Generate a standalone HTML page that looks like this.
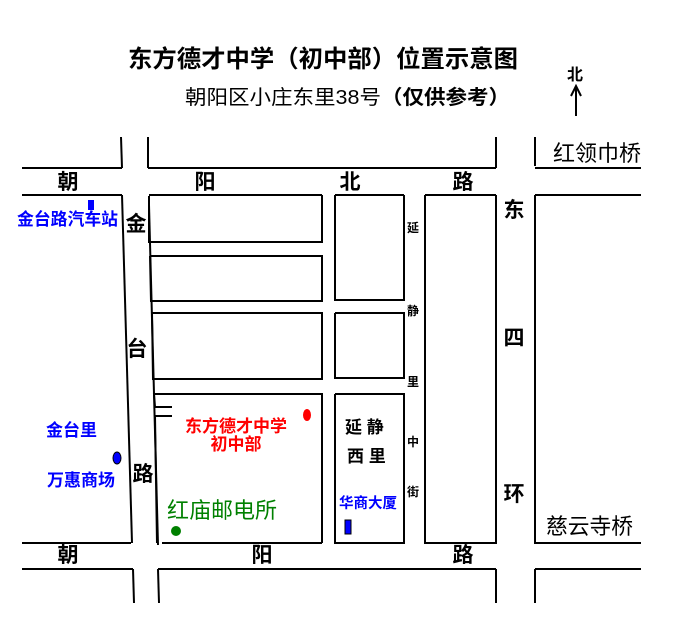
<!DOCTYPE html>
<html><head><meta charset="utf-8"><style>
body{margin:0;background:#fff;}
svg{display:block;}
text{font-family:"Liberation Sans","Noto Sans CJK SC","WenQuanYi Zen Hei",sans-serif;}
</style></head><body>
<svg width="685" height="625" viewBox="0 0 685 625" xmlns="http://www.w3.org/2000/svg">
<g stroke="#000" stroke-width="2" fill="none">
<line x1="22" y1="168" x2="122" y2="168"/>
<line x1="148" y1="168" x2="496" y2="168"/>
<line x1="535" y1="168" x2="641" y2="168"/>
<line x1="121" y1="137" x2="122" y2="168"/>
<line x1="148" y1="137" x2="148" y2="168"/>
<line x1="496" y1="137" x2="496" y2="168"/>
<line x1="535" y1="137" x2="535" y2="166"/>
<line x1="22" y1="195" x2="122" y2="195"/>
<line x1="149" y1="195" x2="322" y2="195"/>
<line x1="335" y1="195" x2="404" y2="195"/>
<line x1="425" y1="195" x2="496" y2="195"/>
<line x1="535" y1="195" x2="641" y2="195"/>
<line x1="122" y1="195" x2="132" y2="543"/>
<line x1="149" y1="205" x2="158" y2="545"/>
<polyline points="149,196 149,242 322,242 322,195"/>
<polyline points="150,256 322,256 322,301 151,301 150,256"/>
<polyline points="152,313 322,313 322,379 153,379 152,313"/>
<polyline points="155,407 154,394 322,394 322,543"/>
<line x1="155" y1="407" x2="172" y2="407"/>
<polyline points="172,416 155,416 157,543"/>
<polyline points="335,195 335,300 404,300 404,195"/>
<polyline points="335,313 404,313 404,378 335,378 335,313"/>
<polyline points="335,394 404,394 404,543 335,543 335,394"/>
<polyline points="425,195 425,543 496,543 496,195"/>
<polyline points="535,195 535,543 641,543"/>
<line x1="22" y1="543" x2="131" y2="543"/>
<line x1="162" y1="543" x2="322" y2="543"/>
<line x1="22" y1="569" x2="133" y2="569"/>
<line x1="158" y1="569" x2="496" y2="569"/>
<line x1="535" y1="569" x2="641" y2="569"/>
<line x1="133" y1="569" x2="134" y2="603"/>
<line x1="158" y1="569" x2="159" y2="603"/>
<line x1="496" y1="569" x2="496" y2="603"/>
<line x1="535" y1="569" x2="535" y2="603"/>
<line x1="576" y1="116" x2="576" y2="87"/>
<polyline points="571,96 576,86 581,96"/>
</g>
<text x="323" y="67" font-size="24" font-weight="bold" text-anchor="middle" textLength="390" lengthAdjust="spacingAndGlyphs">东方德才中学（初中部）位置示意图</text>
<text x="185" y="104" font-size="20" textLength="325" lengthAdjust="spacingAndGlyphs">朝阳区小庄东里38号<tspan font-weight="bold">（仅供参考）</tspan></text>
<text x="575" y="80" font-size="16" font-weight="bold" text-anchor="middle">北</text>
<g font-size="21" font-weight="bold" text-anchor="middle">
<text x="68" y="189">朝</text><text x="205" y="189">阳</text><text x="350" y="189">北</text><text x="463" y="189">路</text>
<text x="136" y="231">金</text><text x="137" y="356">台</text><text x="143" y="481">路</text>
<text x="514" y="217">东</text><text x="514" y="345">四</text><text x="514" y="501">环</text>
<text x="68" y="562">朝</text><text x="262" y="562">阳</text><text x="463" y="562">路</text>
</g>
<text x="553" y="161" font-size="22" textLength="88" lengthAdjust="spacingAndGlyphs">红领巾桥</text>
<text x="546" y="534" font-size="22" textLength="87" lengthAdjust="spacingAndGlyphs">慈云寺桥</text>
<g font-size="12" font-weight="bold" text-anchor="middle">
<text x="413" y="232">延</text><text x="413" y="315">静</text><text x="413" y="386">里</text><text x="413" y="446">中</text><text x="413" y="496">街</text>
</g>
<text x="345" y="433" font-size="17" font-weight="bold">延 静</text>
<text x="347" y="462" font-size="17" font-weight="bold">西 里</text>
<g fill="#0000ff" font-weight="bold">
<text x="17" y="225" font-size="17" textLength="101" lengthAdjust="spacingAndGlyphs">金台路汽车站</text>
<text x="46" y="436" font-size="17">金台里</text>
<text x="47" y="486" font-size="17">万惠商场</text>
<text x="339" y="508" font-size="14.5">华商大厦</text>
</g>
<rect x="88" y="200" width="6" height="10" fill="#0000ff"/>
<ellipse cx="117" cy="458" rx="4" ry="6" fill="#0000ff" stroke="#000" stroke-width="1"/>
<rect x="345" y="520" width="6" height="14" fill="#0000ff" stroke="#000" stroke-width="1"/>
<g fill="#ff0000" font-weight="bold" font-size="17" text-anchor="middle">
<text x="236" y="432">东方德才中学</text>
<text x="236" y="450">初中部</text>
</g>
<ellipse cx="307" cy="415" rx="4" ry="6" fill="#ff0000"/>
<text x="167" y="518" font-size="22" fill="#008000">红庙邮电所</text>
<circle cx="176" cy="531" r="5" fill="#008000"/>
</svg>
</body></html>
